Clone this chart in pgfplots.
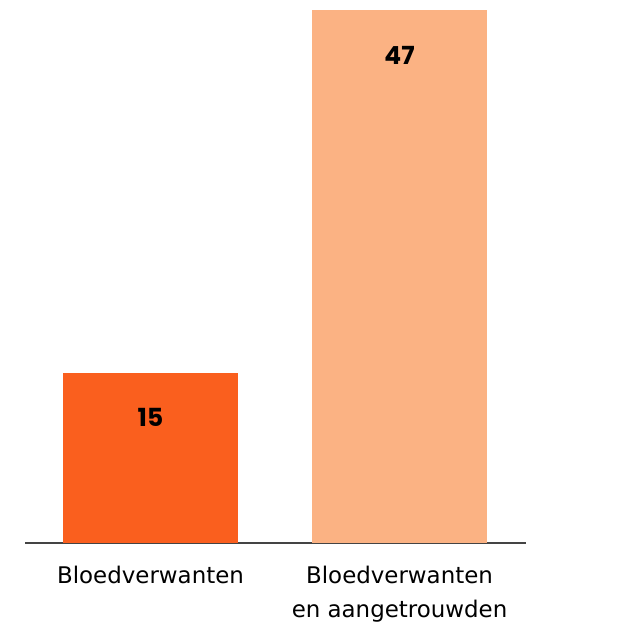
\documentclass[border=0pt]{standalone}
\usepackage{fontspec}
\setmainfont{DejaVu Sans}
\newfontfamily\numfont{Poppins}
\usepackage{pgfplots}
\pgfplotsset{compat=1.18}
\definecolor{barA}{HTML}{FA5F1E}
\definecolor{barB}{HTML}{FBB283}
\definecolor{axline}{HTML}{444444}
\begin{document}
\begin{tikzpicture}
\path (-25bp,-84bp) rectangle (595bp,543bp);
\begin{axis}[
  at={(0,0)}, anchor=origin,
  scale only axis, width=501bp, height=533bp,
  xmin=0.496, xmax=2.508, ymin=0, ymax=47,
  axis x line*=bottom, hide y axis,
  x axis line style={draw=axline, line width=1.3bp, -},
  xtick={1,2}, xtick style={draw=none},
  xticklabels={Bloedverwanten, {Bloedverwanten\\en aangetrouwden}},
  xticklabel style={font=\fontsize{23}{34}\selectfont, align=center, anchor=north, inner sep=0pt, yshift=-19bp, text=black},
  clip=false,
  ybar, bar width=175bp, bar shift=0pt,
  nodes near coords={\numfont\bfseries\pgfmathprintnumber[assume math mode=true]{\pgfplotspointmeta}},
  every node near coord/.append style={font=\fontsize{25}{27}\selectfont, anchor=center, inner sep=0pt, yshift=-45bp, text=black},
]
\addplot[fill=barA, draw=none] coordinates {(1,15)};
\addplot[fill=barB, draw=none] coordinates {(2,47)};
\end{axis}
\end{tikzpicture}
\end{document}
